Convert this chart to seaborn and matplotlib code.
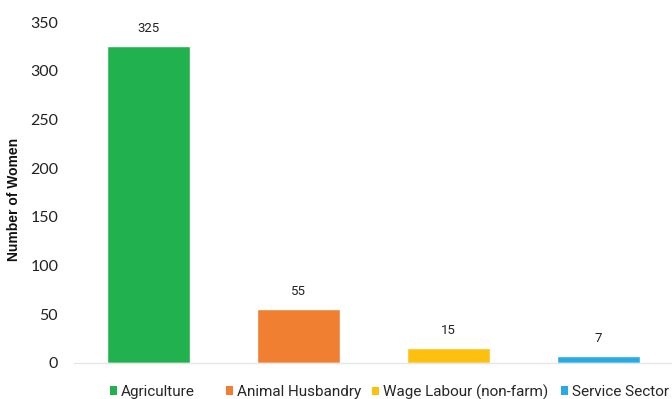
import matplotlib
matplotlib.use("Agg")
import matplotlib.pyplot as plt
import seaborn as sns
import pandas as pd
from matplotlib.patches import Patch

categories = ["Agriculture", "Animal Husbandry", "Wage Labour (non-farm)", "Service Sector"]
values = [325, 55, 15, 7]
colors = ["#21B24F", "#F07F32", "#FEC00F", "#29ABE2"]
yticks = [0, 50, 100, 150, 200, 250, 300, 350]

sns.set_style("white")
plt.rcParams['font.family'] = ['Roboto', 'DejaVu Sans']

df = pd.DataFrame({"cat": categories, "val": values})

fig = plt.figure(figsize=(6.72, 3.99), dpi=100)
ax = fig.add_axes([73.5/672, 1 - 363/399, 600/672, (363-22)/399])

sns.barplot(data=df, x="cat", y="val", hue="cat", palette=colors,
            order=categories, hue_order=categories, width=0.55,
            dodge=False, legend=False, ax=ax, saturation=1)

ax.set_xlim(-0.5, 3.5)
ax.set_ylim(0, 350)
ax.set_yticks(yticks)
ax.set_yticklabels([str(t) for t in yticks], family=['Lato', 'DejaVu Sans'], fontsize=11.5, color='#222222')
ax.tick_params(axis='y', length=0, pad=11)
ax.set_xticks([])
ax.set_xlabel("")
ax.set_ylabel("Number of Women", fontsize=10, fontweight='bold',
              family=['Liberation Sans', 'DejaVu Sans'], color='#111111')
ax.yaxis.set_label_coords((21 - 73.5) / 600, (363 - 199) / 341)
for s in ["top", "right", "left"]:
    ax.spines[s].set_visible(False)
ax.spines["bottom"].set_color("#e6e6e6")
ax.spines["bottom"].set_linewidth(1)

for i, v in enumerate(values):
    ax.annotate(str(v), (i, v), xytext=(0, 13), textcoords='offset points',
                ha='center', va='center', fontsize=9.5, color='#222222')

legend_x = [110, 226, 372, 561]
for cat, col, lx in zip(categories, colors, legend_x):
    fig.legend([Patch(facecolor=col, edgecolor='none')], [cat], loc='center left',
               bbox_to_anchor=(lx / 672, 1 - 392 / 399), frameon=False, fontsize=11,
               handlelength=0.45, handleheight=0.45, handletextpad=0.25,
               borderaxespad=0, borderpad=0)

fig.savefig("out.png", dpi=100)
